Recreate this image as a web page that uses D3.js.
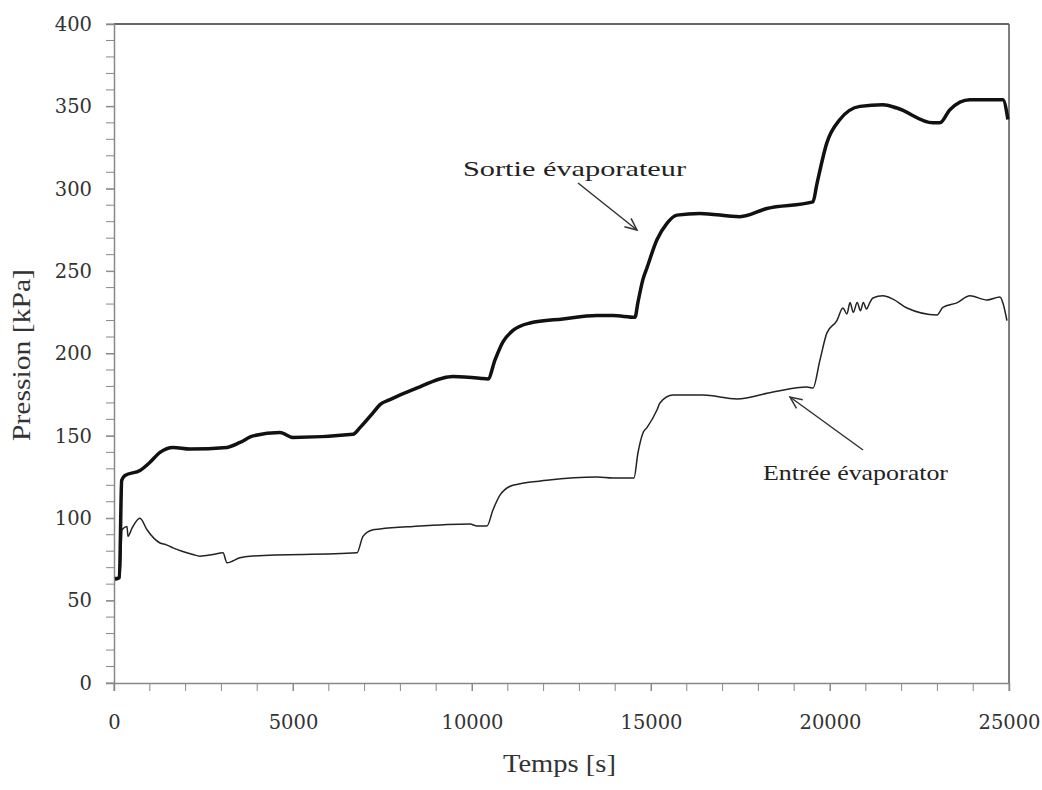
<!DOCTYPE html>
<html>
<head>
<meta charset="utf-8">
<title>Pression evaporateur</title>
<script src="https://cdn.jsdelivr.net/npm/d3@7"></script>
<style>
    body { margin: 0; background: white; }
    svg { font-family: "Liberation Serif", "Times New Roman", serif; }
</style>
</head>
<body>
<div id="chart"></div>
<script>
    // temps [s] / pression [kPa]
    var sortieT = [28, 150, 215, 307, 726, 1005, 1285, 1648, 2123, 3156, 3519, 3882, 4636, 4999, 6675, 6871,
        7234, 7430, 7709, 8351, 9468, 10222, 10446, 10641, 10865, 11144, 11619, 12540, 13490, 13937, 14552,
        14635, 14775, 14887, 15166, 15445, 15724, 16366, 17484, 18238, 19523, 19635, 19914, 20277, 20836,
        21478, 21869, 22875, 23070, 23350, 23908, 24830, 24970];
    var sortieP = [63, 64, 123, 126, 129, 134, 140, 143, 142, 143, 146, 150, 152, 149, 151, 155,
        164, 169, 172, 178, 186, 185, 184.5, 196, 207, 214, 218.5, 221, 223, 223, 222,
        231, 245, 252, 269, 279, 284, 285, 283, 288, 292, 303, 328, 342, 350,
        351, 349, 340, 340, 348, 354, 354, 342];

    var entreeT = [28, 168, 223, 363, 391, 503, 726, 922, 1285, 1450, 1648, 1900, 2206, 2400, 2765, 3044, 3156,
        3519, 3799, 6787, 6955, 7234, 7430, 8351, 9943, 10139, 10418, 10585, 10781, 11144, 12094, 13490,
        13937, 14524, 14635, 14775, 14887, 15166, 15250, 15613, 16451, 17400, 18406, 19355, 19523, 19719,
        19914, 20193, 20361, 20473, 20560, 20650, 20760, 20850, 20930, 21020, 21115, 21199, 21478, 21758,
        22149, 22987, 23154, 23545, 23908, 24383, 24746, 24830, 24942];
    var entreeP = [64, 64, 93, 95, 89, 94, 100, 93, 85, 84, 82, 80, 78, 77, 78, 79, 73,
        76, 77, 79, 89, 93, 93.5, 95, 96.5, 95.3, 95.3, 105, 114, 120, 123, 125,
        124.4, 124.4, 139.6, 151.8, 155, 165.7, 170, 174.8, 174.8, 172.4, 176.6, 179.7, 179, 196,
        212.5, 220, 227.6, 224, 231, 225, 231, 226, 231, 227, 231, 233.7, 235, 233,
        227.6, 223.4, 228, 230.7, 235, 232.5, 234.3, 230.7, 220];

    var xTicks = [0, 5000, 10000, 15000, 20000, 25000];
    var yTicks = [0, 50, 100, 150, 200, 250, 300, 350, 400];

    var width = 1042, height = 790;
    var plotL = 114, plotR = 1009, plotT = 24, plotB = 683;

    var svg = d3.select('#chart').append('svg')
        .attr('width', width)
        .attr('height', height);

    var x = d3.scaleLinear().domain([0, 25000]).range([plotL, plotR]);
    var y = d3.scaleLinear().domain([0, 400]).range([plotB, plotT]);

    // frame (top + right darker)
    svg.append('line').attr('x1', plotL).attr('x2', plotR).attr('y1', plotT).attr('y2', plotT)
        .attr('stroke', '#333').attr('stroke-width', 1.5);
    svg.append('line').attr('x1', plotR).attr('x2', plotR).attr('y1', plotT).attr('y2', plotB)
        .attr('stroke', '#555').attr('stroke-width', 1.5);

    // minor ticks
    var yMinor = d3.range(0, 401, 10);
    svg.append('g').selectAll('line').data(yMinor).enter().append('line')
        .attr('x1', plotL - 8).attr('x2', plotL)
        .attr('y1', function(d) { return y(d); }).attr('y2', function(d) { return y(d); })
        .attr('stroke', '#888').attr('stroke-width', 1);
    var xMinor = d3.range(0, 25001, 1000);
    svg.append('g').selectAll('line').data(xMinor).enter().append('line')
        .attr('x1', function(d) { return x(d); }).attr('x2', function(d) { return x(d); })
        .attr('y1', plotB).attr('y2', plotB + 8)
        .attr('stroke', '#888').attr('stroke-width', 1);

    var yAxis = svg.append('g')
        .attr('transform', 'translate(' + plotL + ',0)')
        .call(d3.axisLeft(y).tickValues(yTicks).tickSize(8).tickPadding(14));
    var xAxis = svg.append('g')
        .attr('transform', 'translate(0,' + plotB + ')')
        .call(d3.axisBottom(x).tickValues(xTicks).tickFormat(d3.format('d')).tickSize(8).tickPadding(24));

    [yAxis, xAxis].forEach(function(a) {
        a.select('.domain').attr('stroke', '#888').attr('stroke-width', 1.5);
        a.selectAll('.tick line').attr('stroke', '#888');
        a.selectAll('.tick text')
            .attr('font-family', '"DejaVu Serif", serif')
            .attr('font-size', 19.5)
            .attr('fill', '#333');
    });

    var line = d3.line()
        .curve(d3.curveMonotoneX)
        .x(function(d) { return x(d[0]); })
        .y(function(d) { return y(d[1]); });

    svg.append('path')
        .datum(d3.zip(entreeT, entreeP))
        .attr('fill', 'none')
        .attr('stroke', '#222')
        .attr('stroke-width', 1.5)
        .attr('d', line);

    svg.append('path')
        .datum(d3.zip(sortieT, sortieP))
        .attr('fill', 'none')
        .attr('stroke', '#111')
        .attr('stroke-width', 3.5)
        .attr('stroke-linejoin', 'round')
        .attr('d', line);

    // axis titles
    svg.append('text')
        .attr('x', 503).attr('y', 772)
        .attr('font-size', 25).attr('fill', '#333')
        .attr('textLength', 113).attr('lengthAdjust', 'spacingAndGlyphs')
        .text('Temps [s]');
    svg.append('text')
        .attr('transform', 'translate(30,441) rotate(-90)')
        .attr('font-size', 25).attr('fill', '#333')
        .attr('textLength', 172).attr('lengthAdjust', 'spacingAndGlyphs')
        .text('Pression [kPa]');

    // annotations
    function arrow(x1, y1, x2, y2) {
        var a = Math.atan2(y2 - y1, x2 - x1), h = 13, s = 0.42;
        svg.append('line').attr('x1', x1).attr('y1', y1).attr('x2', x2).attr('y2', y2)
            .attr('stroke', '#333').attr('stroke-width', 1.5);
        svg.append('path')
            .attr('d', 'M' + (x2 - h * Math.cos(a - s)) + ',' + (y2 - h * Math.sin(a - s)) +
                'L' + x2 + ',' + y2 +
                'L' + (x2 - h * Math.cos(a + s)) + ',' + (y2 - h * Math.sin(a + s)))
            .attr('fill', 'none').attr('stroke', '#333').attr('stroke-width', 1.5);
    }

    svg.append('text').attr('x', 463).attr('y', 176)
        .attr('font-size', 22).attr('fill', '#222')
        .attr('textLength', 223).attr('lengthAdjust', 'spacingAndGlyphs')
        .text('Sortie évaporateur');
    arrow(578, 183, 637, 230);

    svg.append('text').attr('x', 763).attr('y', 480)
        .attr('font-size', 22).attr('fill', '#222')
        .attr('textLength', 185).attr('lengthAdjust', 'spacingAndGlyphs')
        .text('Entrée évaporator');
    arrow(863, 450, 790, 397);
</script>
</body>
</html>
